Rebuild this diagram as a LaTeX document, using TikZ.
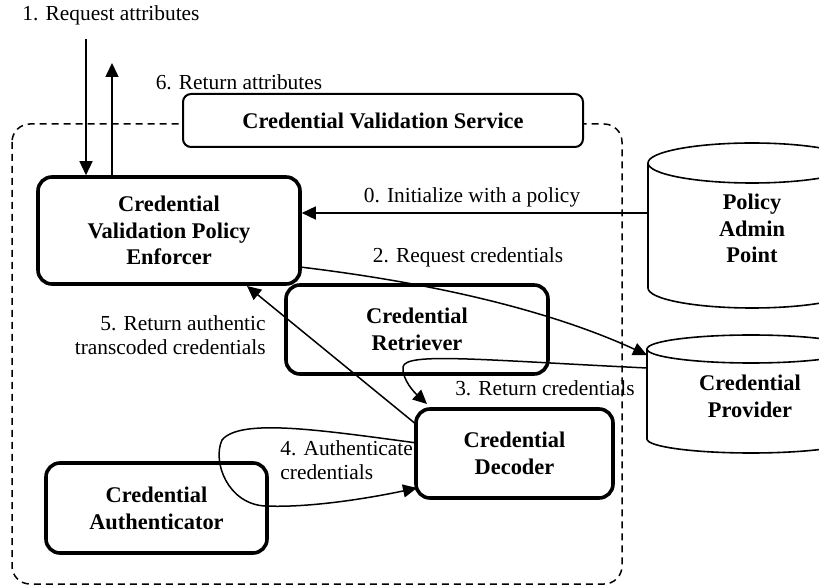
\documentclass[tikz,border=0pt]{standalone}
\usepackage{fontspec}
\setmainfont{Liberation Serif}
\usetikzlibrary{arrows.meta}
\begin{document}
\begin{tikzpicture}[x=0.5pt,y=-0.5pt,
  box/.style={draw, line width=1.8pt, rounded corners=7pt, align=center,
    font=\fontsize{11.2}{13.4}\selectfont\bfseries, inner sep=0pt},
  svcbox/.style={draw, fill=white, line width=1pt, rounded corners=4pt, align=center,
    font=\fontsize{11.2}{13.4}\selectfont\bfseries, inner sep=0pt},
  cyltext/.style={align=center, font=\fontsize{11.2}{13.4}\selectfont\bfseries, inner sep=0pt},
  lbl/.style={font=\fontsize{10.7}{12}\selectfont, inner sep=0pt},
  conn/.style={line width=0.75pt, -{Triangle[length=7pt,width=6.5pt]}},
  cyl/.style={line width=0.8pt},
  border/.style={line width=0.75pt, dash pattern=on 3.5pt off 2.5pt, rounded corners=9pt}
]
\useasboundingbox (0,0) rectangle (819,587);
\clip (0,0) rectangle (819,587);

% dashed service boundary
\draw[border] (12,124) rectangle (622,584);

% boxes
\node[svcbox, minimum width=200pt, minimum height=26.5pt] (cvs) at (383,120.5) {Credential Validation Service};
\node[box, minimum width=131pt, minimum height=53.5pt] (enforcer) at (169,230.5) {Credential\\Validation Policy\\Enforcer};
\node[box, minimum width=131pt, minimum height=44.5pt] (retriever) at (417,329.5) {Credential\\Retriever};
\node[box, minimum width=98.5pt, minimum height=44.5pt] (decoder) at (514.5,453.5) {Credential\\Decoder};
\node[box, minimum width=110.5pt, minimum height=45pt] (auth) at (156.5,508) {Credential\\Authenticator};

% cylinders
\draw[cyl] (648,163) -- (648,288) arc[start angle=180, end angle=0, x radius=104, y radius=20] -- (856,163);
\draw[cyl] (752,163) ellipse[x radius=104, y radius=20];
\node[cyltext] (pap) at (752,228.5) {Policy\\Admin\\Point};

\draw[cyl] (647,349) -- (647,439) arc[start angle=180, end angle=0, x radius=104, y radius=14] -- (855,349);
\draw[cyl] (751,349) ellipse[x radius=104, y radius=14];
\node[cyltext] (cp) at (750,396.5) {Credential\\Provider};

% connector end points
\coordinate (a1s) at (86,39);
\coordinate (a6e) at (112,63);
\coordinate (pap0) at (648,213);
\coordinate (e2) at (300,267);
\coordinate (cp2) at (647,355);
\coordinate (cp3) at (647,368);
\coordinate (d3) at (427,404);
\coordinate (d5) at (417,425);
\coordinate (e5) at (247,286);
\coordinate (d4s) at (417,443);
\coordinate (d4e) at (417,488);

% connectors
\draw[conn] (a1s) -- (a1s |- enforcer.north);
\draw[conn] (a6e |- enforcer.north) -- (a6e);
\draw[conn] (pap0) -- (pap0 -| enforcer.east);
\draw[conn] (e2) .. controls (450,285) and (560,315) .. (cp2);
\draw[conn] (cp3) .. controls (480,360) and (405,352) .. (403,367) .. controls (402,380) and (415,393) .. (d3);
\draw[conn] (d5) -- (e5);
\draw[conn] (d4s) .. controls (320,430) and (240,418) .. (222,440) .. controls (212,462) and (228,504) .. (265,506) .. controls (310,508) and (370,498) .. (d4e);

% labels
\node[lbl] (t1) at (111,15) {1. Request attributes};
\node[lbl] (t6) at (239,82) {6. Return attributes};
\node[lbl] (t0) at (472,197) {0. Initialize with a policy};
\node[lbl] (t2) at (468,257) {2. Request credentials};
\node[lbl] (t3) at (545,388) {3. Return credentials};
\node[lbl, align=right, anchor=east] (t5) at (266,335) {5. Return authentic\\transcoded credentials};
\node[lbl, align=left, anchor=west] (t4) at (280,460) {4. Authenticate\\credentials};
\end{tikzpicture}
\end{document}
